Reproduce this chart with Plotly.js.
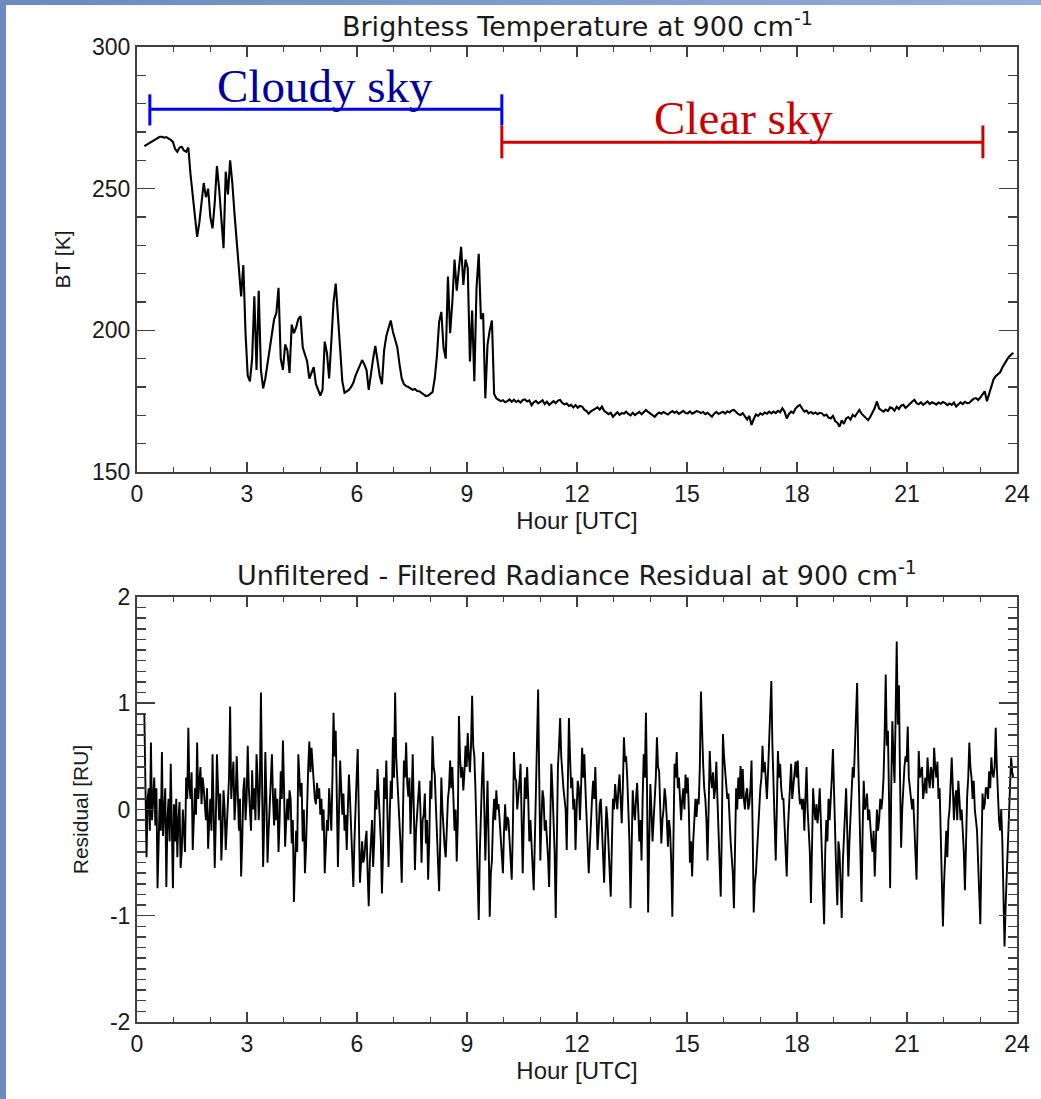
<!DOCTYPE html>
<html><head><meta charset="utf-8">
<script src="https://cdn.plot.ly/plotly-3.0.1.min.js"></script>
<style>
html,body{margin:0;padding:0;width:1041px;height:1099px;overflow:hidden;background:linear-gradient(90deg,#6b8abf,#7f9bcd 50%,#93addb);}
#chart{position:absolute;left:6px;top:5px;width:1035px;height:1094px;background:#fff;}
</style></head><body><div id="chart"></div>
<script>
// sampling (hours UTC)
const btStartHour = 0.2;
const btStepHours = 0.06;
const resStartHour = 0.2;
const resStepHours = 0.03;

// Brightness temperature at 900 cm-1 [K]
const brightnessTemp = [
265.0,265.5,266.0,266.3,267.0,267.5,268.0,268.3,268.3,268.0,
268.2,267.8,267.2,266.5,264.0,263.0,264.5,264.8,263.5,263.0,
264.5,255.0,248.0,241.0,233.0,238.0,246.0,252.0,247.0,250.0,
240.0,236.0,245.0,258.0,250.0,241.0,229.0,256.0,248.0,260.0,
252.0,241.0,231.0,220.0,212.0,223.0,199.0,184.0,182.0,190.0,
212.0,186.0,214.0,186.0,179.5,183.0,188.0,193.0,199.0,204.0,
206.0,215.0,190.0,186.0,195.0,193.0,185.0,202.0,199.0,201.0,
204.0,205.0,194.0,191.0,189.0,183.0,185.0,187.0,181.0,179.0,
177.0,179.0,196.0,192.0,183.0,196.0,210.0,216.5,205.0,196.0,
182.0,178.0,178.5,179.0,180.0,181.5,184.0,186.0,187.5,189.5,
188.0,186.0,179.0,185.0,190.0,194.5,189.0,184.0,181.0,193.0,
198.0,200.5,203.5,199.5,197.0,194.0,188.0,183.0,181.0,180.3,
180.0,179.5,179.0,179.3,178.6,178.5,178.0,177.5,176.8,177.0,
177.5,178.2,183.0,191.0,203.0,206.5,194.0,190.0,219.0,199.0,
210.0,225.0,214.0,222.0,229.5,216.0,225.0,222.0,189.0,207.0,
182.0,215.0,227.0,204.0,206.0,176.0,195.0,200.0,203.5,177.5,
176.0,175.5,175.0,175.3,174.6,175.0,175.6,174.8,175.5,174.7,
175.2,174.5,175.4,175.6,174.9,175.3,173.6,174.6,175.1,174.2,
174.9,175.3,174.0,174.8,173.7,174.5,175.0,174.3,175.2,175.4,
174.4,173.9,174.2,173.3,173.7,172.8,173.6,172.7,173.3,173.1,
172.0,171.5,170.6,171.4,171.9,172.3,172.8,172.0,173.1,171.6,
171.0,170.4,170.9,169.5,170.3,171.1,170.2,170.8,170.6,171.3,
170.5,170.0,170.9,170.1,170.7,171.2,170.4,171.0,171.9,171.2,
170.6,170.0,169.5,170.4,171.0,170.6,171.2,170.7,170.3,171.0,
171.5,170.9,171.3,170.5,171.1,171.6,170.8,170.7,171.4,170.6,
171.0,171.5,171.3,170.8,171.2,170.4,170.9,170.1,169.5,170.6,
171.2,170.5,171.0,171.3,170.6,171.4,171.0,171.7,171.9,171.0,
170.4,170.1,170.8,169.6,168.5,169.8,166.6,168.7,170.3,169.8,
170.7,170.2,171.0,170.6,171.3,170.7,171.3,170.8,171.6,171.1,
172.5,171.4,168.9,170.5,171.3,170.8,172.4,173.2,173.7,172.4,
171.3,171.7,170.7,171.2,170.6,171.0,170.4,170.9,170.7,169.9,
170.3,169.2,168.9,169.8,168.0,167.4,166.0,168.2,167.0,168.9,
169.4,168.5,170.2,169.6,171.0,171.9,170.6,169.8,168.9,168.3,
169.5,171.0,172.6,174.9,172.4,171.8,171.3,172.0,171.5,172.8,
172.5,171.6,173.0,172.2,173.4,173.7,172.6,173.3,174.2,174.8,
175.5,174.3,173.9,174.6,173.7,174.4,174.9,174.0,174.6,174.3,
173.8,174.5,174.1,174.7,174.3,173.6,174.2,173.7,174.5,173.1,
173.8,174.6,174.0,174.8,174.3,174.4,175.2,175.9,176.1,175.4,
176.3,177.6,178.5,175.0,177.8,180.6,182.7,183.8,184.6,185.2,
186.9,188.0,189.5,190.7,191.6,192.1
];

// Unfiltered - filtered radiance residual at 900 cm-1 [RU]
const residual = [
0.90,0.2,-0.45,0.1,0.2,-0.2,0.63,-0.1,0.15,0.3,-0.15,0.2,-0.74,-0.3,0.1,-0.2,0.54,-0.25,0.0,0.2,
-0.73,-0.1,0.1,-0.3,0.43,-0.2,-0.74,0.05,-0.3,0.1,-0.45,-0.1,0.07,-0.55,-0.4,0.0,-0.2,-0.4,0.3,0.1,
0.77,0.2,0.1,0.35,-0.38,0.0,0.2,-0.05,0.63,0.1,0.25,0.4,0.05,0.3,0.2,0.05,-0.1,0.2,-0.37,-0.1,
0.1,-0.2,0.52,0.0,-0.55,-0.1,0.52,0.2,-0.1,0.15,-0.48,-0.2,0.18,0.0,-0.38,-0.15,0.1,0.3,0.97,0.1,
0.3,0.45,-0.1,0.1,0.5,0.1,-0.2,0.1,-0.63,-0.3,0.18,0.3,-0.1,0.1,0.6,0.2,0.0,-0.2,0.37,0.0,
0.2,-0.1,0.52,0.3,-0.1,0.2,1.10,0.2,-0.54,-0.1,0.54,0.1,-0.5,-0.2,0.0,0.2,0.52,0.1,-0.15,0.2,
-0.1,0.1,-0.4,-0.1,0.36,0.1,0.65,0.2,-0.35,-0.1,0.1,-0.1,0.18,0.1,-0.32,-0.1,-0.87,-0.5,-0.2,-0.4,
0.52,0.3,0.12,0.25,-0.3,0.0,-0.6,-0.35,0.1,0.4,0.64,0.35,0.58,0.4,0.3,0.1,0.05,0.25,0.1,0.2,
-0.05,0.1,-0.2,0.0,-0.6,-0.3,-0.1,-0.2,0.2,0.0,-0.2,0.3,0.91,0.5,0.74,0.1,-0.54,0.0,0.46,0.2,
-0.05,0.15,-0.2,-0.05,-0.38,0.0,0.33,0.1,-0.2,-0.4,-0.73,-0.3,0.1,0.3,
0.57,0.1,-0.69,-0.5,-0.3,-0.5,-0.45,-0.3,-0.2,-0.6,-0.91,-0.5,-0.25,-0.1,-0.54,-0.3,0.18,0.0,0.38,0.1,
0.0,-0.3,-0.79,-0.4,0.3,0.1,0.46,0.0,-0.54,-0.1,0.27,0.1,0.68,0.3,1.10,0.5,0.3,0.1,-0.17,-0.35,
-0.69,-0.2,0.46,0.3,0.63,0.25,0.12,0.3,-0.23,0.1,0.52,0.0,-0.57,-0.2,-0.05,0.1,0.27,0.0,-0.5,-0.1,
-0.05,0.15,-0.32,-0.1,-0.66,-0.3,0.27,0.1,0.69,0.4,0.33,0.05,-0.2,-0.4,-0.77,-0.3,0.3,0.0,-0.2,-0.35,
-0.45,-0.1,0.1,0.2,0.46,0.2,0.4,0.1,-0.2,0.0,-0.49,-0.1,0.88,0.5,0.3,0.4,0.18,0.35,0.6,0.4,
0.72,0.5,0.35,0.6,1.07,0.6,0.5,0.2,-0.2,-0.5,-1.04,-0.4,0.1,0.3,0.54,0.0,-0.48,-0.1,0.27,-0.3,
-1.01,-0.6,-0.48,-0.1,0.1,-0.1,0.18,0.0,0.05,-0.1,-0.26,-0.4,-0.6,-0.2,0.05,-0.2,-0.07,-0.1,-0.3,-0.45,
-0.66,-0.2,0.54,0.3,0.27,0.0,0.1,0.25,0.43,0.0,-0.6,-0.1,0.3,0.1,0.4,0.1,-0.3,-0.1,-0.35,-0.5,
-0.76,-0.3,0.2,0.6,1.13,0.3,-0.48,-0.1,0.18,0.1,-0.2,-0.1,-0.26,-0.45,-0.73,-0.2,0.43,0.2,-0.1,-0.4,
-1.02,-0.3,0.4,0.6,0.86,0.5,0.3,0.2,0.1,0.0,-0.38,0.2,0.86,0.5,0.2,0.3,0.0,0.1,-0.38,0.0,
0.27,0.2,-0.1,0.2,0.58,0.3,0.52,0.2,-0.1,-0.3,-0.6,-0.35,-0.07,0.1,0.27,0.1,0.40,0.0,-0.38,-0.2,
0.05,0.1,-0.2,-0.4,-0.69,-0.3,0.03,-0.1,-0.3,-0.5,-0.82,-0.35,0.1,0.0,0.24,0.1,0.0,0.2,0.33,0.1,
-0.13,0.2,0.68,0.45,0.5,0.3,0.05,-0.3,-0.93,-0.4,0.18,0.0,-0.1,0.1,0.25,0.0,-0.3,-0.1,-0.48,0.1,
0.52,0.3,0.91,0.2,-0.97,-0.3,0.24,0.0,-0.3,-0.1,0.1,0.3,0.68,0.4,0.36,0.1,-0.32,-0.1,0.0,0.2,
0.1,-0.1,-0.35,-0.1,-0.2,-0.5,-1.01,-0.3,0.43,0.3,0.54,0.2,0.3,0.1,-0.1,0.1,0.2,0.0,0.33,0.15,
0.3,0.0,-0.5,-0.3,-0.63,-0.3,0.0,0.1,-0.07,0.1,0.05,0.4,1.11,0.6,0.43,0.2,0.1,-0.1,-0.48,0.0,
0.55,0.3,0.2,0.35,0.1,0.2,0.45,0.1,-0.2,-0.4,-0.82,-0.2,0.71,0.5,0.36,0.2,0.1,0.15,-0.15,-0.3,
-0.45,-0.6,-0.93,-0.3,0.2,0.0,0.3,0.1,0.41,0.1,0.38,0.1,0.0,0.15,0.2,0.0,0.05,0.2,0.46,-0.2,
-0.97,-0.7,-0.6,-0.4,-0.25,0.0,0.2,0.3,0.6,0.35,0.45,0.3,0.1,0.35,0.67,0.8,1.21,0.6,0.3,0.0,
-0.48,0.0,0.55,0.3,0.43,0.2,0.1,0.1,-0.15,-0.35,-0.63,-0.2,0.0,0.25,0.43,0.1,0.2,0.3,0.45,0.3,
0.46,0.2,0.05,0.1,0.0,0.1,-0.2,0.1,0.4,0.0,-0.2,-0.4,-0.88,-0.2,0.2,0.0,-0.1,0.05,-0.13,0.0,
0.2,-0.1,-0.4,-0.7,-1.08,-0.4,-0.1,-0.3,0.1,-0.1,0.2,0.3,0.57,0.1,-0.32,-0.6,-0.9,-0.3,-0.4,-0.7,
-1.02,-0.5,-0.2,-0.1,0.2,-0.2,-0.63,-0.3,0.0,0.2,0.4,0.3,0.6,0.9,1.19,0.5,0.1,-0.3,-0.87,-0.2,
0.27,0.0,0.05,0.15,-0.1,0.0,-0.2,-0.3,-0.4,-0.2,-0.63,-0.3,0.0,-0.2,-0.1,0.1,0.0,0.1,0.3,0.7,
1.27,0.6,0.74,0.1,-0.74,0.2,0.83,0.5,0.25,0.9,1.58,0.8,1.17,0.3,-0.36,0.0,0.27,0.4,0.5,0.45,
0.78,0.3,0.2,0.1,0.0,0.1,-0.2,-0.4,-0.66,-0.1,0.55,0.3,0.35,0.4,0.1,0.2,0.3,0.15,0.49,0.3,
0.2,0.4,0.35,0.2,0.58,0.4,0.3,0.45,0.1,0.2,-0.3,-0.6,-1.1,-0.7,-0.4,-0.2,-0.45,-0.1,0.0,0.2,
0.49,0.2,-0.1,0.1,0.18,-0.1,0.27,0.1,-0.1,0.0,-0.2,-0.4,-0.76,-0.3,0.12,0.3,0.63,0.4,0.3,0.1,
0.27,0.0,-0.1,-0.2,-0.5,-0.8,-1.08,-0.4,0.15,0.0,0.05,0.2,0.2,0.1,0.36,0.2,0.49,0.35,0.3,0.4,
0.77,0.4,0.1,-0.1,-0.2,0.0,-0.3,-0.7,-1.29,-0.9,-0.6,-0.4,-0.2,0.1,0.49,0.35,0.3
];

// sky-condition periods (hours UTC)
const cloudyRange = [0.35, 9.95];
const clearRange = [9.95, 23.07];
const periodLabels = ['Cloudy sky', 'Clear sky'];

const panelTitles = ['Brightess Temperature at 900 cm<sup>-1</sup>',
                     'Unfiltered - Filtered Radiance Residual at 900 cm<sup>-1</sup>'];

// residual tick labels (plain hyphen minus as in the original)
const residualTickVals = [-2, -1, 0, 1, 2];
const residualTickText = ['-2', '-1', '0', '1', '2'];

const axisColor = '#404040';
const txt = '#1a1a1a';
const sans = 'Liberation Sans, Arial, sans-serif';
const titleFont = 'DejaVu Sans, sans-serif';

function xAxis(anchor) {
  return {
    anchor: anchor, domain: [0, 1], range: [0, 24], tick0: 0, dtick: 3,
    ticks: 'inside', ticklen: 10, tickwidth: 1.5, tickcolor: axisColor,
    minor: {dtick: 1, ticks: 'inside', ticklen: 5, tickwidth: 1.5, tickcolor: axisColor},
    showline: true, linecolor: axisColor, linewidth: 2, mirror: 'allticks',
    showgrid: false, zeroline: false,
    tickfont: {family: sans, size: 23, color: txt},
    title: {text: 'Hour [UTC]', font: {family: sans, size: 24, color: txt}, standoff: 4}
  };
}
function yAxis(anchor, domain, range, dtick, minorDtick, title) {
  return {
    anchor: anchor, domain: domain, range: range, dtick: dtick,
    ticks: 'inside', ticklen: 18, tickwidth: 1.5, tickcolor: axisColor,
    minor: {dtick: minorDtick, ticks: 'inside', ticklen: 9, tickwidth: 1.5, tickcolor: axisColor},
    showline: true, linecolor: axisColor, linewidth: 2, mirror: 'allticks',
    showgrid: false, zeroline: false,
    tickfont: {family: sans, size: 23, color: txt},
    title: {text: title, font: {family: sans, size: 21, color: txt}, standoff: 16}
  };
}

const traces = [
  {type: 'scatter', mode: 'lines', x0: btStartHour, dx: btStepHours, y: brightnessTemp,
   xaxis: 'x', yaxis: 'y', line: {color: '#000', width: 2.1}, hoverinfo: 'skip'},
  {type: 'scatter', mode: 'lines', x0: resStartHour, dx: resStepHours, y: residual,
   xaxis: 'x2', yaxis: 'y2', line: {color: '#000', width: 1.9}, hoverinfo: 'skip'}
];

const bracketY = {cloudy: 278, cloudyCap: [272.3, 283.3], clear: 266.4, clearCap: [260.7, 272.3]};
const blue = '#0000ff', red = '#d00000';
const shapes = [
  {type: 'line', xref: 'x', yref: 'y', x0: cloudyRange[0], x1: cloudyRange[1], y0: bracketY.cloudy, y1: bracketY.cloudy, line: {color: blue, width: 3}},
  {type: 'line', xref: 'x', yref: 'y', x0: cloudyRange[0], x1: cloudyRange[0], y0: bracketY.cloudyCap[0], y1: bracketY.cloudyCap[1], line: {color: blue, width: 3}},
  {type: 'line', xref: 'x', yref: 'y', x0: cloudyRange[1], x1: cloudyRange[1], y0: bracketY.cloudyCap[0], y1: bracketY.cloudyCap[1], line: {color: blue, width: 3}},
  {type: 'line', xref: 'x', yref: 'y', x0: clearRange[0], x1: clearRange[1], y0: bracketY.clear, y1: bracketY.clear, line: {color: red, width: 3}},
  {type: 'line', xref: 'x', yref: 'y', x0: clearRange[0], x1: clearRange[0], y0: bracketY.clearCap[0], y1: bracketY.clearCap[1], line: {color: red, width: 3}},
  {type: 'line', xref: 'x', yref: 'y', x0: clearRange[1], x1: clearRange[1], y0: bracketY.clearCap[0], y1: bracketY.clearCap[1], line: {color: red, width: 3}}
];

const serif = 'Liberation Serif, Times New Roman, serif';
const annotations = [
  {xref: 'paper', yref: 'paper', x: 0.5, y: 1.0235, xanchor: 'center', yanchor: 'middle', showarrow: false,
   text: panelTitles[0], font: {family: titleFont, size: 27, color: txt}},
  {xref: 'paper', yref: 'paper', x: 0.5, y: 0.4595, xanchor: 'center', yanchor: 'middle', showarrow: false,
   text: panelTitles[1], font: {family: titleFont, size: 27, color: txt}},
  {xref: 'x', yref: 'y', x: (cloudyRange[0] + cloudyRange[1]) / 2 - 0.03, y: 286.2, xanchor: 'center', yanchor: 'middle', showarrow: false,
   text: periodLabels[0], font: {family: serif, size: 47, color: '#00009c'}},
  {xref: 'x', yref: 'y', x: 16.53, y: 275.0, xanchor: 'center', yanchor: 'middle', showarrow: false,
   text: periodLabels[1], font: {family: serif, size: 47, color: '#cc0000'}}
];

const yaxis2 = yAxis('x2', [0, 0.4359], [-2, 2], 1, 0.1, 'Residual [RU]');
yaxis2.tickmode = 'array';
yaxis2.tickvals = residualTickVals;
yaxis2.ticktext = residualTickText;

const layout = {
  width: 1035, height: 1094,
  margin: {l: 131, r: 24, t: 42, b: 77},
  paper_bgcolor: '#ffffff', plot_bgcolor: '#ffffff',
  showlegend: false,
  xaxis: xAxis('y'),
  yaxis: yAxis('x', [0.5641, 1], [150, 300], 50, 10, 'BT [K]'),
  xaxis2: xAxis('y2'),
  yaxis2: yaxis2,
  shapes: shapes,
  annotations: annotations
};

Plotly.newPlot('chart', traces, layout, {staticPlot: true, displayModeBar: false});
</script></body></html>
